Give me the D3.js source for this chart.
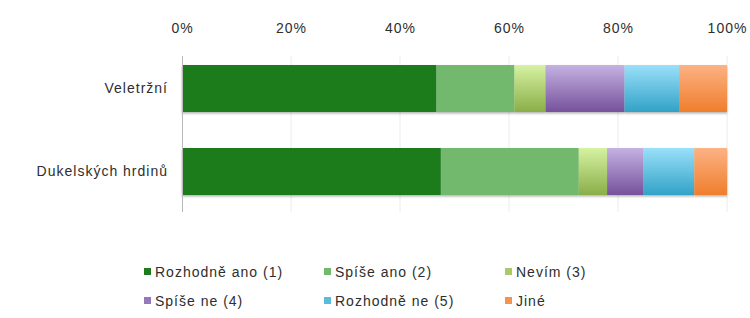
<!DOCTYPE html>
<html><head><meta charset="utf-8">
<script src="https://cdn.jsdelivr.net/npm/d3@7/dist/d3.min.js"></script>
<style>body{margin:0;background:#fff}svg{display:block}text{font-family:"Liberation Sans",Arial,sans-serif;fill:#2e2e2e;font-size:14px;letter-spacing:1px}</style>
</head><body><svg id="c" width="750" height="318"></svg>
<script>
const categories = ["Veletržní", "Dukelských hrdinů"];
const seriesNames = ["Rozhodně ano (1)", "Spíše ano (2)", "Nevím (3)", "Spíše ne (4)", "Rozhodně ne (5)", "Jiné"];
const valuesVeletrzni = [46.7, 14.3, 5.7, 14.5, 10.0, 8.8];
const valuesDukelskych = [47.5, 25.3, 5.2, 6.6, 9.4, 6.0];
const tickLabels = ["0%", "20%", "40%", "60%", "80%", "100%"];
const tickValues = [0, 20, 40, 60, 80, 100];
const colorsTop = ["#1e7b1e", "#72b96e", "#d6f2a2", "#c4b2e2", "#9ae0fa", "#fcb284"];
const colorsBottom = ["#1e7b1e", "#72b96e", "#8aae48", "#76519c", "#32a2c6", "#ef7e2c"];

const svg = d3.select("#c");
const x = d3.scaleLinear().domain([0, 100]).range([182, 727]);
const y = d3.scaleBand().domain(categories).range([47, 213]).paddingInner(0.434).paddingOuter(0.217);

const defs = svg.append("defs");
seriesNames.forEach((s, i) => {
  const g = defs.append("linearGradient").attr("id", "g" + i).attr("x1", 0).attr("y1", 0).attr("x2", 0).attr("y2", 1);
  g.append("stop").attr("offset", "0%").attr("stop-color", colorsTop[i]);
  g.append("stop").attr("offset", "100%").attr("stop-color", colorsBottom[i]);
});
const f = defs.append("filter").attr("id", "sh").attr("x", "-5%").attr("y", "-20%").attr("width", "110%").attr("height", "150%");
f.append("feDropShadow").attr("dx", 0).attr("dy", 1.5).attr("stdDeviation", 1).attr("flood-color", "#000").attr("flood-opacity", 0.3);

// grid
svg.append("g").selectAll("line").data(tickValues.slice(1)).join("line")
  .attr("x1", d => x(d)).attr("x2", d => x(d)).attr("y1", 56).attr("y2", 212)
  .attr("stroke", "#ececec").attr("stroke-width", 1);

// top axis labels
const ax = d3.axisTop(x).tickValues(tickValues).tickFormat((d, i) => tickLabels[i]).tickSize(0).tickPadding(0);
const axg = svg.append("g").attr("transform", "translate(0,33)").call(ax);
axg.select(".domain").remove();
axg.selectAll("text").style("font-size", "14px").style("fill", "#2e2e2e").attr("font-family", null);

// bars
const data = [valuesVeletrzni, valuesDukelskych];
const rows = svg.append("g").attr("filter", "url(#sh)");
categories.forEach((c, ci) => {
  let acc = 0;
  const segs = data[ci].map((v, i) => { const s = {x0: acc, x1: acc + v, i}; acc += v; return s; });
  rows.append("g").selectAll("rect").data(segs).join("rect")
    .attr("x", d => x(d.x0)).attr("width", d => x(d.x1) - x(d.x0))
    .attr("y", y(c)).attr("height", y.bandwidth())
    .attr("fill", d => "url(#g" + d.i + ")");
});

// left axis
const ay = d3.axisLeft(y).tickSize(0).tickPadding(14);
const ayg = svg.append("g").attr("transform", "translate(182,0)").call(ay);
ayg.select(".domain").remove();
ayg.selectAll("text").style("font-size", "14px").style("fill", "#2e2e2e").attr("font-family", null);
svg.append("line").attr("x1", 182.5).attr("x2", 182.5).attr("y1", 56).attr("y2", 212).attr("stroke", "#b8b8b8");

// legend
const legX = [144, 324, 505];
const legY = [272, 301];
const lg = svg.append("g").selectAll("g").data(seriesNames).join("g")
  .attr("transform", (d, i) => `translate(${legX[i % 3]},${legY[Math.floor(i / 3)]})`);
lg.append("rect").attr("x", 0).attr("y", -4).attr("width", 7).attr("height", 7).attr("fill", (d, i) => colorsBottom[i] === colorsTop[i] ? colorsTop[i] : d3.interpolateRgb(colorsTop[i], colorsBottom[i])(0.6));
lg.append("text").attr("x", 11).attr("y", 0).attr("dy", "0.35em").text(d => d);
</script></body></html>
